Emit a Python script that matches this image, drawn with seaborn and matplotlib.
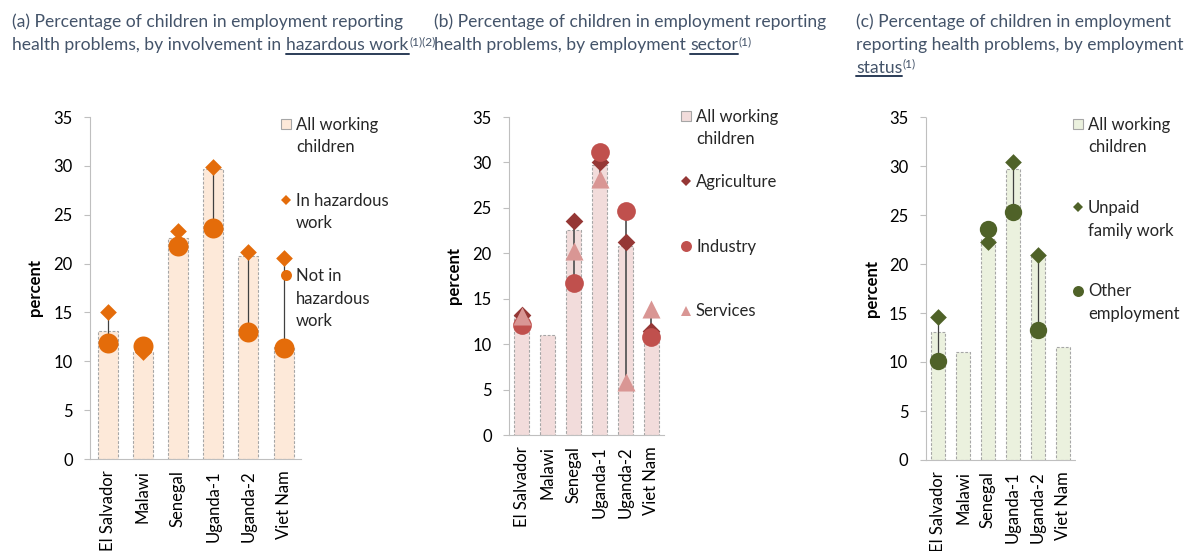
import numpy as np
import pandas as pd
import matplotlib
matplotlib.use("Agg")
import matplotlib.pyplot as plt
import seaborn as sns
from matplotlib.lines import Line2D

# ---------------------------------------------------------------- data
countries = ["El Salvador", "Malawi", "Senegal", "Uganda-1", "Uganda-2", "Viet Nam"]
all_working = [13.1, 11.0, 22.6, 29.7, 20.8, 11.5]

# (a) by involvement in hazardous work
in_hazardous = [15.0, 10.9, 23.3, 29.9, 21.2, 20.6]
not_hazardous = [11.9, 11.6, 21.8, 23.6, 13.0, 11.4]

# (b) by employment sector
agriculture = [13.2, np.nan, 23.6, 30.0, 21.2, 11.4]
industry = [12.1, np.nan, 16.7, 31.1, 24.6, 10.8]
services = [13.1, np.nan, 20.2, 28.2, 5.8, 13.9]

# (c) by employment status
unpaid_family = [14.6, np.nan, 22.2, 30.4, 20.9, np.nan]
other_employment = [10.1, np.nan, 23.6, 25.3, 13.3, np.nan]

yticks = [0, 5, 10, 15, 20, 25, 30, 35]

# ---------------------------------------------------------------- style
sns.set_style("white")
plt.rcParams["font.family"] = ["Lato", "DejaVu Sans"]

W, H = 1187, 551
fig = plt.figure(figsize=(W / 100, H / 100), dpi=100)
renderer = fig.canvas.get_renderer()

TITLE_COLOR = "#44546A"
UNDERLINE_COLOR = "#2B3C57"
FS = 12
GRID_GREY = "#BFBFBF"
EDGE_GREY = "#A6A6A6"


def px_rect(x0, x1, top, bottom):
    return [x0 / W, 1 - bottom / H, (x1 - x0) / W, (bottom - top) / H]


def draw_title(x_px, baseline_px, step_px, lines, size):
    """Write a multi-line title; segments may be plain, underlined or superscript."""
    probe_a = fig.text(0, 0, "aa", fontsize=size)
    probe_b = fig.text(0, 0, "a a", fontsize=size)
    space_w = (probe_b.get_window_extent(renderer).width
               - probe_a.get_window_extent(renderer).width)
    probe_a.remove()
    probe_b.remove()
    for i, segments in enumerate(lines):
        x = x_px
        y = baseline_px + i * step_px
        for text, kind, lead_space in segments:
            if lead_space:
                x += space_w
            fs = size * 0.68 if kind == "sup" else size
            dy = -5 if kind == "sup" else 0
            t = fig.text(x / W, 1 - (y + dy) / H, text, fontsize=fs,
                         color=TITLE_COLOR, ha="left", va="baseline")
            bb = t.get_window_extent(renderer)
            if kind == "under":
                uy = 1 - (y + 3.5) / H
                fig.add_artist(Line2D([bb.x0 / W, bb.x1 / W], [uy, uy],
                                      transform=fig.transFigure,
                                      color=UNDERLINE_COLOR, lw=1.4))
            x = bb.x1 + (0.5 if kind == "under" else 0)


def panel(rect, bar_color, width, series, line_color, line_width,
          legend_labels, legend_handles, legend_xy, labelspacing, ylabel_x):
    ax = fig.add_axes(rect)
    sns.barplot(x=countries, y=all_working, order=countries, color=bar_color,
                saturation=1, width=width, edgecolor=EDGE_GREY, linewidth=0.8,
                linestyle=(0, (2.5, 1.5)), errorbar=None, ax=ax, zorder=1)

    frame = pd.DataFrame({s["name"]: s["values"] for s in series}, index=countries)
    low = frame.min(axis=1)
    high = frame.max(axis=1)
    ax.vlines(countries, low.values, high.values, color=line_color,
              lw=line_width, zorder=2)

    for z, s in enumerate(series):
        sns.stripplot(x=countries, y=s["values"], order=countries, jitter=False,
                      marker=s["marker"], size=s["size"], color=s["color"],
                      linewidth=0, ax=ax, zorder=3 + z)

    ax.set_xlim(-0.5, len(countries) - 0.5)
    ax.set_ylim(0, 35)
    ax.set_yticks(yticks)
    ax.set_xlabel("")
    for side in ("top", "right"):
        ax.spines[side].set_visible(False)
    for side in ("left", "bottom"):
        ax.spines[side].set(color=GRID_GREY, linewidth=0.8, linestyle=(0, (2, 1)))
    ax.tick_params(axis="y", length=4.5, width=0.8, color=GRID_GREY, pad=8,
                   labelsize=FS, labelcolor="black", left=True)
    ax.tick_params(axis="x", length=0, pad=8, labelsize=FS, labelcolor="black",
                   labelrotation=90)
    ax.set_ylabel("percent", fontsize=FS, fontweight="bold", color="black")
    ax.yaxis.set_label_coords(ylabel_x, 0.5)

    leg = ax.legend(legend_handles, legend_labels, loc="upper left",
                    bbox_to_anchor=(legend_xy[0] / W, 1 - legend_xy[1] / H),
                    bbox_transform=fig.transFigure, frameon=False, borderpad=0,
                    borderaxespad=0, handlelength=0.6, handleheight=1.25,
                    handletextpad=0.3, labelspacing=labelspacing, fontsize=FS)
    for t in leg.get_texts():
        t.set_linespacing(1.5)
    for column in leg._legend_handle_box.get_children():
        for item in column.get_children():
            item.align = "top"
    return ax


def box_handle(color):
    return Line2D([], [], marker="s", ms=7.2, mfc=color, mec=EDGE_GREY,
                  mew=0.8, ls="none")


def mark_handle(marker, color, ms):
    return Line2D([], [], marker=marker, ms=ms, color=color, mew=0, ls="none")


# ---------------------------------------------------------------- (a)
ORANGE = "#E46C0A"
panel(px_rect(90, 301.2, 117, 459), "#FDE9D9", 0.57,
      [dict(name="haz", values=in_hazardous, marker="D", size=8.5, color=ORANGE),
       dict(name="nohaz", values=not_hazardous, marker="o", size=14.4, color=ORANGE)],
      "#404040", 0.9,
      ["All working\nchildren", "In hazardous\nwork", "Not in\nhazardous\nwork"],
      [box_handle("#FDE9D9"), mark_handle("D", ORANGE, 5.1), mark_handle("o", ORANGE, 7.9)],
      (281, 117), 2.22, -0.222)

# ---------------------------------------------------------------- (b)
AGRI, INDU, SERV = "#953735", "#C0504D", "#D99694"
panel(px_rect(509, 664.4, 117, 435), "#F2DCDB", 0.58,
      [dict(name="agri", values=agriculture, marker="D", size=9.0, color=AGRI),
       dict(name="indu", values=industry, marker="o", size=13.5, color=INDU),
       dict(name="serv", values=services, marker="^", size=13.0, color=SERV)],
      "#595959", 1.3,
      ["All working\nchildren", "Agriculture\n", "Industry\n", "Services"],
      [box_handle("#F2DCDB"), mark_handle("D", AGRI, 5.1), mark_handle("o", INDU, 7.9),
       mark_handle("^", SERV, 7.2)],
      (681, 109), 1.58, -0.302)

# ---------------------------------------------------------------- (c)
OLIVE = "#4F6228"
panel(px_rect(925.7, 1075.1, 117, 460), "#EBF1DE", 0.57,
      [dict(name="unpaid", values=unpaid_family, marker="D", size=8.5, color=OLIVE),
       dict(name="other", values=other_employment, marker="o", size=12.5, color=OLIVE)],
      "#404040", 0.9,
      ["All working\nchildren", "Unpaid\nfamily work", "Other\nemployment"],
      [box_handle("#EBF1DE"), mark_handle("D", OLIVE, 5.1), mark_handle("o", OLIVE, 7.9)],
      (1073, 117), 2.68, -0.306)

# ---------------------------------------------------------------- titles
TITLE_FS = 12.6
draw_title(12.5, 27, 23.3,
           [[("(a) Percentage of children in employment reporting", "plain", False)],
            [("health problems, by involvement in", "plain", False),
             ("hazardous work", "under", True),
             ("(1)(2)", "sup", False)]], TITLE_FS)
draw_title(434, 27, 23.3,
           [[("(b) Percentage of children in employment reporting", "plain", False)],
            [("health problems, by employment", "plain", False),
             ("sector", "under", True),
             ("(1)", "sup", False)]], TITLE_FS)
draw_title(856, 27, 22.8,
           [[("(c) Percentage of children in employment", "plain", False)],
            [("reporting health problems, by employment", "plain", False)],
            [("status", "under", False),
             ("(1)", "sup", False)]], TITLE_FS)

fig.savefig("out.png", dpi=100)
